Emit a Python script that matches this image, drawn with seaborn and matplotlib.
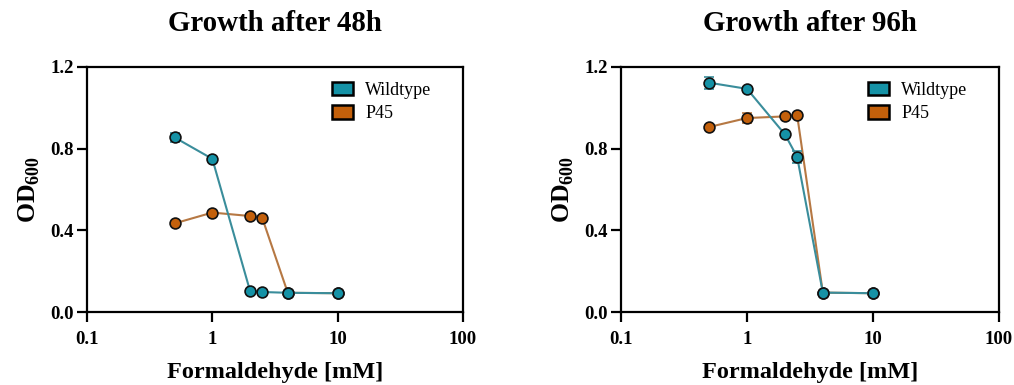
import matplotlib
matplotlib.use("Agg")
import matplotlib.pyplot as plt
import seaborn as sns
import pandas as pd
from matplotlib.patches import Patch
from matplotlib.ticker import FixedLocator, FixedFormatter, NullLocator

# Formaldehyde concentrations (mM)
conc = [0.5, 1, 2, 2.5, 4, 10]

# OD600 after 48 h
wt_48 = [0.855, 0.750, 0.103, 0.098, 0.094, 0.092]
wt_48_sd = [0.020, 0.006, 0.005, 0.004, 0.004, 0.004]
p45_48 = [0.434, 0.487, 0.470, 0.461, 0.094, 0.092]
p45_48_sd = [0.008, 0.008, 0.008, 0.008, 0.004, 0.004]

# OD600 after 96 h
wt_96 = [1.123, 1.093, 0.870, 0.760, 0.095, 0.092]
wt_96_sd = [0.030, 0.008, 0.010, 0.030, 0.004, 0.004]
p45_96 = [0.906, 0.950, 0.958, 0.965, 0.095, 0.092]
p45_96_sd = [0.008, 0.025, 0.008, 0.008, 0.004, 0.004]

strains = ["Wildtype", "P45"]
titles = ["Growth after 48h", "Growth after 96h"]
x_ticks = [0.1, 1, 10, 100]
x_ticklabels = ["0.1", "1", "10", "100"]
y_ticks = [0.0, 0.4, 0.8, 1.2]

marker_colors = {"Wildtype": "#1592a6", "P45": "#c3600b"}
line_colors = {"Wildtype": "#3a8d9b", "P45": "#b67843"}

sns.set_style("white")
plt.rcParams["font.family"] = ["Liberation Serif", "DejaVu Serif"]
plt.rcParams["mathtext.fontset"] = "custom"
plt.rcParams["mathtext.rm"] = "Liberation Serif:bold"
plt.rcParams["mathtext.bf"] = "Liberation Serif:bold"
for key in ["text.color", "axes.labelcolor", "xtick.color", "ytick.color"]:
    plt.rcParams[key] = "black"

fig = plt.figure(figsize=(10.14, 3.85), dpi=100)
ax1 = fig.add_axes([0.0858, 0.1896, 0.3708, 0.6364])
ax2 = fig.add_axes([0.6124, 0.1896, 0.3728, 0.6364])

panels = [
    (ax1, {"Wildtype": (wt_48, wt_48_sd), "P45": (p45_48, p45_48_sd)}, titles[0]),
    (ax2, {"Wildtype": (wt_96, wt_96_sd), "P45": (p45_96, p45_96_sd)}, titles[1]),
]

for ax, series, title in panels:
    # P45 first so the wildtype curve sits on top
    for z, strain in enumerate(["P45", "Wildtype"]):
        vals, sd = series[strain]
        df = pd.DataFrame({"conc": conc, "od": vals})
        ax.errorbar(conc, vals, yerr=sd, fmt="none", ecolor=line_colors[strain],
                    elinewidth=1.2, capsize=3.5, capthick=1.2, zorder=2 + 2 * z)
        sns.lineplot(data=df, x="conc", y="od", ax=ax, color=line_colors[strain],
                     linewidth=1.5, marker="o", markersize=7.8,
                     markerfacecolor=marker_colors[strain], markeredgecolor="#111111",
                     markeredgewidth=1.2, zorder=3 + 2 * z, legend=False)

    ax.set_xscale("log")
    ax.set_xlim(0.1, 100)
    ax.set_ylim(0, 1.2)
    ax.xaxis.set_major_locator(FixedLocator(x_ticks))
    ax.xaxis.set_major_formatter(FixedFormatter(x_ticklabels))
    ax.xaxis.set_minor_locator(NullLocator())
    ax.set_yticks(y_ticks)
    ax.set_yticklabels([f"{v:.1f}" for v in y_ticks])

    for sp in ax.spines.values():
        sp.set_visible(True)
        sp.set_color("black")
        sp.set_linewidth(1.6)
    ax.tick_params(axis="both", which="major", direction="out", length=7.5, width=1.6,
                   color="black", labelsize=13.5, bottom=True, left=True)
    ax.tick_params(axis="x", pad=6)
    ax.tick_params(axis="y", pad=2)
    for lab in ax.get_xticklabels() + ax.get_yticklabels():
        lab.set_fontweight("bold")

    ax.set_xlabel("Formaldehyde [mM]", fontsize=17.5, fontweight="bold", labelpad=10)
    ax.set_ylabel(r"OD$_{600}$", fontsize=18.5, fontweight="bold", labelpad=6)
    ax.set_title(title, fontsize=20.8, fontweight="bold", pad=26)
    ax.grid(False)

    handles = [Patch(facecolor=marker_colors[s], edgecolor="black", linewidth=1.8, label=s)
               for s in strains]
    ax.legend(handles=handles, loc="upper right", bbox_to_anchor=(0.95, 0.99),
              frameon=False, fontsize=13, handlelength=1.15, handleheight=0.75,
              handletextpad=0.7, labelspacing=0.35, borderaxespad=0.3)

fig.savefig("out.png", dpi=100)
